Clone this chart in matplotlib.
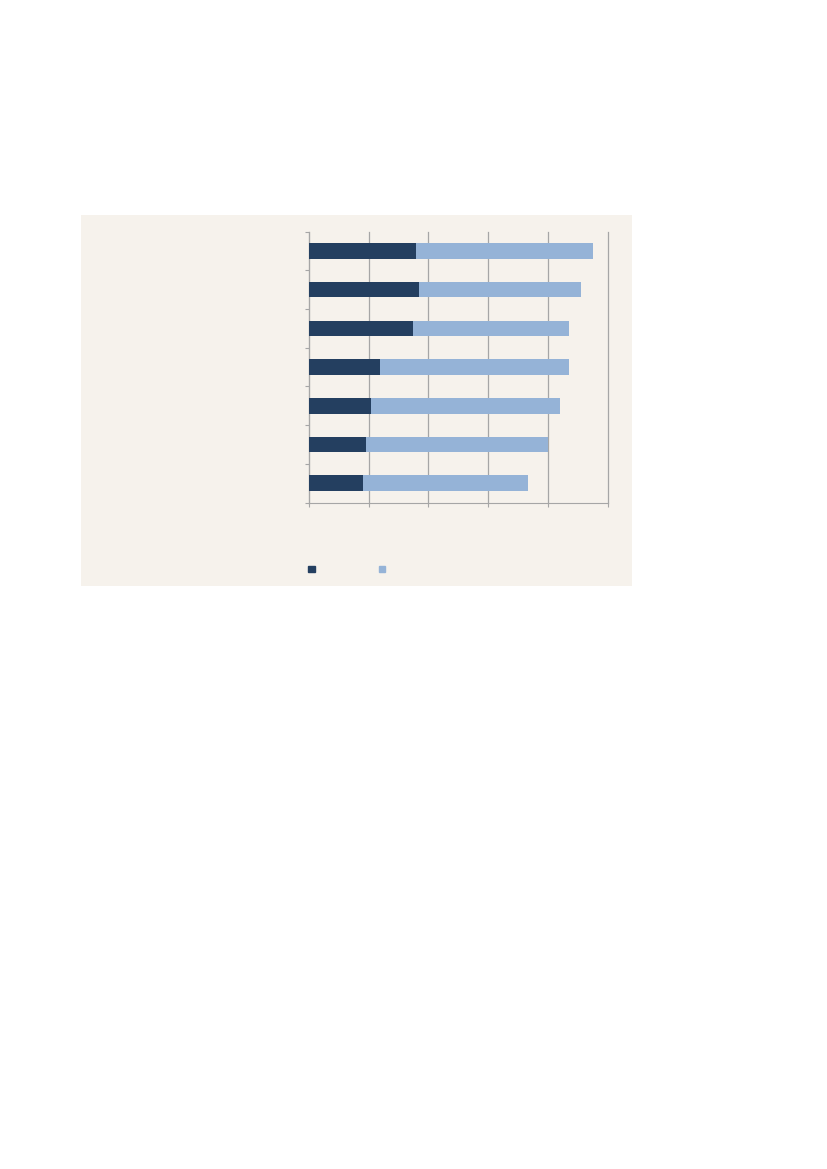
import matplotlib.pyplot as plt
from matplotlib.patches import Rectangle
import numpy as np

# Valores (sin etiquetas visibles)
categories = ['', '', '', '', '', '', '']
dark_vals = [17.9, 18.4, 17.5, 11.9, 10.4, 9.5, 9.0]
light_vals = [29.6, 27.1, 26.0, 31.6, 31.6, 30.5, 27.6]
x_ticks = [0, 10, 20, 30, 40, 50]

dark_color = '#243F60'
light_color = '#95B3D7'
panel_color = '#F6F2EC'
grid_color = '#A6A6A6'

fig = plt.figure(figsize=(8.27, 11.69), dpi=100)
fig.patch.set_facecolor('white')

# fondo del panel
fig.add_artist(Rectangle((0.0979, 0.4987), 0.6663, 0.3174,
                         transform=fig.transFigure, facecolor=panel_color,
                         edgecolor='none', zorder=0))

ax = fig.add_axes([0.3733, 0.5701, 0.3619, 0.2318])
ax.set_facecolor('none')

y = np.arange(len(categories))
ax.barh(y, dark_vals, height=0.4, color=dark_color, zorder=3)
ax.barh(y, light_vals, left=dark_vals, height=0.4, color=light_color, zorder=3)

ax.set_xlim(0, 50)
ax.set_ylim(len(categories) - 0.5, -0.5)
ax.set_xticks(x_ticks)
ax.set_xticklabels([])
ax.set_yticks(np.arange(-0.5, len(categories)))
ax.set_yticklabels([])
ax.tick_params(axis='x', length=3, color=grid_color, width=0.8)
ax.tick_params(axis='y', length=3, color=grid_color, width=0.8)

ax.grid(axis='x', color=grid_color, linewidth=0.9, zorder=1)
for gl in ax.xaxis.get_gridlines():
    gl.set_clip_on(False)
for s in ['top', 'right']:
    ax.spines[s].set_visible(False)
for s in ['left', 'bottom']:
    ax.spines[s].set_color(grid_color)
    ax.spines[s].set_linewidth(0.8)

# leyenda sin texto
handles = [Rectangle((0, 0), 1, 1, color=dark_color),
           Rectangle((0, 0), 1, 1, color=light_color)]
fig.legend(handles, ['', ''], ncol=2, frameon=False, fontsize=7,
           loc='center left', bbox_to_anchor=(0.3727, 0.5128),
           borderpad=0, borderaxespad=0, handlelength=0.67, handleheight=0.67,
           handletextpad=0.4, columnspacing=6.2)

fig.savefig('out.png', dpi=100)
